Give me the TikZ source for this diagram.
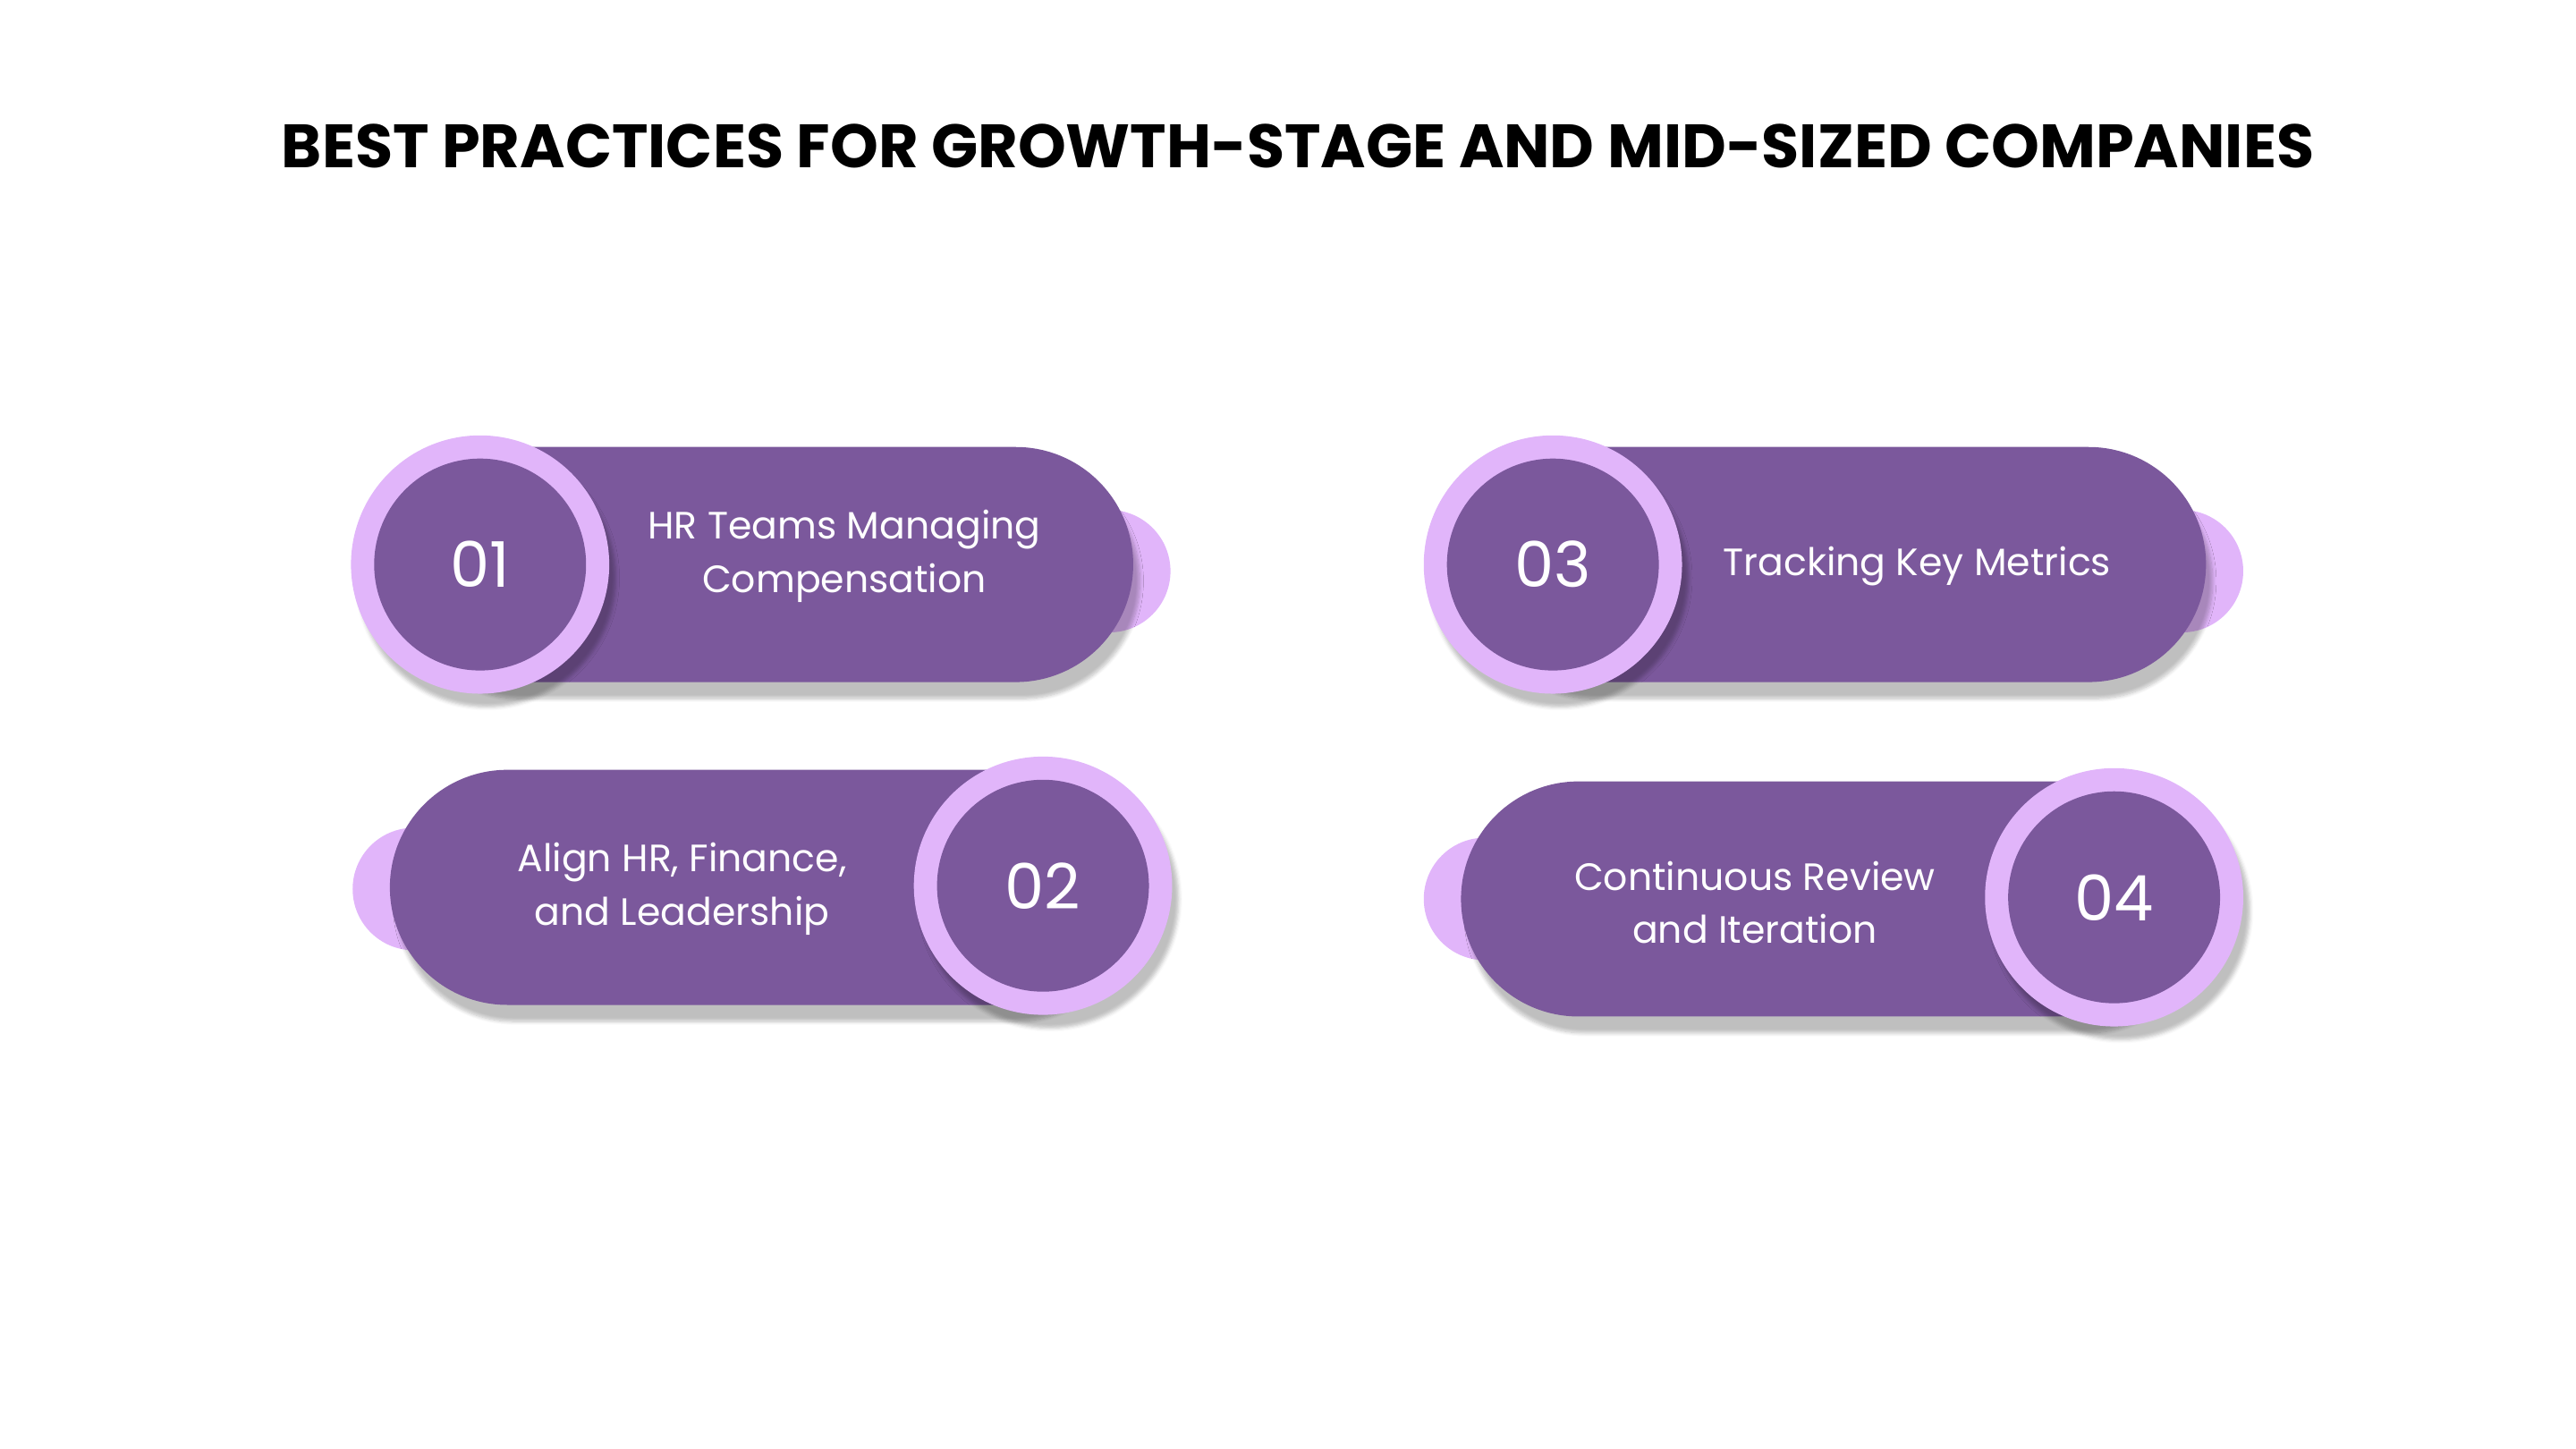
\documentclass[tikz,border=0pt]{standalone}
\usepackage{fontspec}
\setmainfont{Poppins}
\usetikzlibrary{shadows.blur}
\definecolor{pill}{HTML}{7B589C}
\definecolor{lav}{HTML}{E1B5FA}
\tikzset{
 pillbox/.style={fill=pill, rounded corners=71pt, minimum width=445pt, minimum height=142pt, blur shadow={shadow xshift=4pt, shadow yshift=-10pt, shadow opacity=25, shadow blur steps=8}},
 bump/.style={circle, fill=lav, minimum size=74pt},
 ring/.style={circle, fill=lav, minimum size=156pt, blur shadow={shadow xshift=4pt, shadow yshift=-8pt, shadow opacity=25}},
 core/.style={circle, fill=pill, minimum size=128pt, text=white, font=\fontsize{38}{40}\selectfont},
 lbl/.style={text=white, align=center, font=\fontsize{23}{32}\selectfont},
}
\begin{document}
\begin{tikzpicture}[x=1pt,y=-1pt]
\useasboundingbox (0,0) rectangle (1556,875);
\node[font=\fontsize{37}{40}\selectfont\bfseries] (title) at (784,88) {BEST PRACTICES FOR GROWTH-STAGE AND MID-SIZED COMPANIES};
% 1
\node[bump] (b1) at (670,345) {};
\node[pillbox] (p1) at (462,341) {};
\node[ring] (r1) at (290,341) {};
\node[core] (c1) at (290,341) {01};
\node[lbl] (t1) at (510,336) {HR Teams Managing\\Compensation};
% 2
\node[bump] (b2) at (250,537) {};
\node[pillbox] (p2) at (458,536) {};
\node[ring] (r2) at (630,535) {};
\node[core] (c2) at (630,535) {02};
\node[lbl] (t2) at (412,537) {Align HR, Finance,\\and Leadership};
% 3
\node[bump] (b3) at (1318,345) {};
\node[pillbox] (p3) at (1110,341) {};
\node[ring] (r3) at (938,341) {};
\node[core] (c3) at (938,341) {03};
\node[lbl] (t3) at (1158,342) {Tracking Key Metrics};
% 4
\node[bump] (b4) at (897,543) {};
\node[pillbox] (p4) at (1105,543) {};
\node[ring] (r4) at (1277,542) {};
\node[core] (c4) at (1277,542) {04};
\node[lbl] (t4) at (1060,545) {Continuous Review\\and Iteration};
\end{tikzpicture}
\end{document}
